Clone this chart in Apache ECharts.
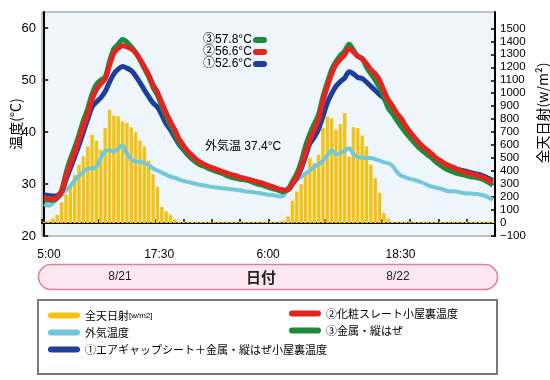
<!DOCTYPE html>
<html><head><meta charset="utf-8">
<script src="https://cdn.jsdelivr.net/npm/echarts@6/dist/echarts.min.js"></script>
<style>html,body{margin:0;padding:0;background:#fff}#c{width:550px;height:380px}</style>
</head><body><div id="c"></div><script>
// ---- data (30-min samples, index 0 = 5:00 8/21) ----
const solar = [10,18,35,64,160,218,282,372,449,513,590,680,634,564,731,872,828,822,782,770,738,700,635,590,480,378,280,125,90,64,30,
10,10,10,10,10,10,10,10,10,10,10,10,10,10,10,10,10,10,10,10,10,10,10,
12,18,51,172,243,300,397,500,462,526,731,821,808,718,762,847,513,739,731,674,590,449,347,231,77,33,
10,10,10,10,10,10,10,10,10,10,10,10,10,10,10,10,10,10,10,10,10,10,10,10];
const outdoor = [26.2,25.8,26.3,27.2,27.9,28.8,29.6,30.7,31.6,32.3,33.0,33.0,33.3,35.0,36.3,36.5,36.2,36.8,37.4,35.8,34.8,34.3,34.3,34.0,33.6,33.0,32.6,32.2,31.8,31.4,31.2,30.9,30.6,30.4,30.2,30.0,29.8,29.7,29.5,29.4,29.3,29.2,29.1,29.0,28.9,28.8,28.6,28.5,28.4,28.3,28.2,28.0,27.9,27.8,27.6,27.8,29.2,30.0,30.8,31.4,32.0,32.6,33.3,33.8,34.5,35.5,36.5,35.7,36.0,36.4,36.9,35.8,35.2,35.1,35.0,35.0,34.8,34.5,34.2,34.0,33.5,32.3,31.6,31.3,31.0,30.8,30.5,30.2,29.8,29.5,29.3,29.1,28.8,28.6,28.6,28.5,28.3,28.2,28.2,28.1,28.0,27.8,27.4,27.0];
const airGap1 = [27.9,27.8,27.7,27.8,28.5,30.8,33.0,35.2,37.5,40.0,42.5,44.8,45.8,46.6,47.8,49.6,51.2,52.1,52.6,52.3,51.8,50.8,49.5,48.1,46.8,45.6,44.8,43.3,41.6,40.4,39.0,37.6,36.6,35.6,34.8,34.2,33.9,33.5,33.1,32.8,32.5,32.2,31.9,31.6,31.4,31.2,31.0,30.8,30.6,30.3,30.1,29.8,29.5,29.2,28.9,28.8,28.9,30.0,31.2,33.0,35.3,37.8,39.0,40.6,43.0,45.6,47.4,48.8,49.7,50.4,51.6,51.2,50.5,50.3,49.6,48.8,48.0,47.2,46.5,45.0,44.0,42.5,41.5,40.3,39.2,38.2,37.4,36.6,35.9,35.2,34.7,34.2,33.7,33.4,33.1,32.8,32.6,32.4,32.2,32.0,31.8,31.5,31.1,30.7];
const slate2 = [27.4,27.2,27.1,27.4,28.5,31.4,33.8,36.0,38.5,41.1,43.4,46.3,48.2,49.3,50.2,52.8,55.2,56.1,56.6,56.4,56.0,55.3,54.0,52.6,51.0,49.1,47.7,45.7,43.7,42.0,40.4,38.6,37.4,36.3,35.5,34.7,34.1,33.7,33.3,33.0,32.7,32.4,32.1,31.8,31.6,31.3,31.1,30.9,30.6,30.4,30.2,29.9,29.6,29.3,29.0,28.8,28.9,30.0,31.3,33.2,35.9,38.4,40.4,42.3,45.9,48.7,51.2,53.0,54.0,54.9,56.1,55.4,54.6,54.1,53.2,52.0,51.2,50.0,48.0,46.2,45.0,43.6,42.6,41.2,40.0,39.0,38.0,37.2,36.5,35.8,35.0,34.5,33.9,33.5,33.2,32.8,32.5,32.2,32.0,31.8,31.5,31.2,30.8,30.3];
const metal3 = [27.0,26.9,26.9,27.3,28.8,32.1,34.8,37.0,39.5,42.2,44.5,47.3,49.2,50.0,50.6,53.6,56.0,56.9,57.8,57.3,56.4,55.3,53.9,52.2,50.6,48.6,47.1,45.0,43.0,41.3,39.7,37.9,36.8,35.7,34.9,34.1,33.6,33.3,32.9,32.6,32.3,32.0,31.6,31.3,31.1,30.9,30.8,30.6,30.3,30.0,29.8,29.5,29.2,29.0,28.7,28.5,29.0,30.5,32.0,34.3,37.3,39.7,41.6,43.4,46.8,49.5,52.0,53.6,54.7,55.6,56.9,55.8,54.6,54.2,52.5,51.2,50.0,48.5,46.8,44.6,43.5,42.2,41.0,39.9,38.9,37.9,37.0,36.3,35.6,35.0,34.2,33.6,33.0,32.6,32.3,32.0,31.8,31.6,31.4,31.3,31.1,30.8,30.3,29.8];
const timeLabels = ['5:00','17:30','6:00','18:30'];
const dateLabels = ['8/21','8/22'];
const tempTicks = [20,30,40,50,60];
const solarTicks = [-100,0,100,200,300,400,500,600,700,800,900,1000,1100,1200,1300,1400,1500];
const seriesNames = ['全天日射[w/m2]','外気温度','①エアギャップシート＋金属・縦はぜ小屋裏温度','②化粧スレート小屋裏温度','③金属・縦はぜ'];

// ---- chart ----
const N = solar.length;
const LAT = "'Liberation Sans', Arial, 'Noto Sans CJK JP', sans-serif";
const CJK = "'Noto Sans CJK JP', 'Liberation Sans', sans-serif";
const pair = a => a.map((v, i) => [i, v]);
const labelPos = [1.1, 26.4, 51.4, 81.8];
const xTicks = []; for (let k = 0; k <= 16; k++) xTicks.push(-0.5 + k * N / 16);
const C = {sun:'#f3c214', out:'#72c8d8', blue:'#1d3f9b', red:'#e6231f', green:'#1f8a3c'};
const capsule = 'path://M3,0 L29,0 A3,3 0 0 1 29,6 L3,6 A3,3 0 0 1 3,0 Z';
const mx = a => Math.max(...a).toFixed(1);

const chart = echarts.init(document.getElementById('c'), null, {renderer:'canvas'});
chart.setOption({
  animation:false,
  textStyle:{fontFamily:LAT},
  grid:{left:42, right:55, top:12, bottom:144, containLabel:false, outerBoundsMode:'none',
    show:true, backgroundColor:'#eef5fb', borderColor:'#8c8c8c', borderWidth:1},
  xAxis:{type:'value', min:-0.5, max:N-0.5,
    axisLine:{lineStyle:{color:'#000', width:2}},
    axisTick:{inside:true, length:4, customValues:xTicks, lineStyle:{color:'#000', width:1.5}},
    axisLabel:{customValues:labelPos, color:'#000', fontSize:12, margin:13,
      formatter:v => { let b=0; labelPos.forEach((p,k)=>{ if (Math.abs(p-v) < Math.abs(labelPos[b]-v)) b=k; }); return timeLabels[b]; }},
    splitLine:{show:false}},
  yAxis:[
    {type:'value', min:20, max:63.1, position:'left',
      axisLine:{show:true, lineStyle:{color:'#000', width:2}},
      axisTick:{show:true, inside:true, length:4, customValues:tempTicks, lineStyle:{color:'#000', width:1.5}},
      axisLabel:{customValues:tempTicks, color:'#000', fontSize:13, margin:6},
      splitLine:{show:false},
      name:'温度(°C)', nameLocation:'middle', nameRotate:90, nameGap:19, nameMoveOverlap:false,
      nameTextStyle:{fontSize:14, color:'#000', fontFamily:CJK}},
    {type:'value', min:-100, max:1626, position:'right',
      axisLine:{show:true, lineStyle:{color:'#000', width:2}},
      axisTick:{show:true, inside:true, length:4, customValues:solarTicks, lineStyle:{color:'#000', width:1.5}},
      axisLabel:{customValues:solarTicks, color:'#000', fontSize:11.5, margin:5,
        formatter:v => String(v).replace('-', '\u2212')},
      splitLine:{show:false},
      name:'全天日射(w/m²)', nameLocation:'middle', nameRotate:90, nameGap:41, nameMoveOverlap:false,
      nameTextStyle:{fontSize:14, color:'#000', fontFamily:CJK, padding:[0,0,0,22]}}
  ],
  legend:[
    {left:48, top:310, orient:'vertical', itemGap:6, itemWidth:32, itemHeight:7, icon:capsule, padding:0,
      data:[seriesNames[0], seriesNames[1], seriesNames[2]],
      formatter:n => n === seriesNames[0] ? '全天日射{s|[w/m2]}' : n,
      textStyle:{fontSize:11, color:'#000', fontFamily:CJK, rich:{s:{fontSize:8, color:'#000', fontFamily:LAT}}}},
    {left:289, top:308, orient:'vertical', itemGap:6, itemWidth:32, itemHeight:7, icon:capsule, padding:0,
      data:[seriesNames[3], seriesNames[4]],
      textStyle:{fontSize:11, color:'#000', fontFamily:CJK}}
  ],
  graphic:[
    {type:'rect', z:0, shape:{x:38.5, y:264.5, width:459, height:25, r:12.5}, style:{fill:'#fce6f0', stroke:'#e27ca3', lineWidth:1.5}},
    {type:'text', z:1, style:{x:120, y:277, text:dateLabels[0], fontSize:12, fontFamily:LAT, fill:'#222', align:'center', verticalAlign:'middle'}},
    {type:'text', z:1, style:{x:261, y:277, text:'日付', fontSize:15, fontWeight:'bold', fontFamily:CJK, fill:'#222', align:'center', verticalAlign:'middle'}},
    {type:'text', z:1, style:{x:398, y:277, text:dateLabels[1], fontSize:12, fontFamily:LAT, fill:'#222', align:'center', verticalAlign:'middle'}},
    {type:'rect', z:0, shape:{x:38, y:300, width:459, height:74}, style:{fill:'#fff', stroke:'#7a7a7a', lineWidth:2}},
    {type:'text', z:100, style:{x:203, y:40, text:'③'+mx(metal3)+'°C', fontSize:12, fontFamily:LAT, fill:'#000', verticalAlign:'middle'}},
    {type:'text', z:100, style:{x:203, y:52, text:'②'+mx(slate2)+'°C', fontSize:12, fontFamily:LAT, fill:'#000', verticalAlign:'middle'}},
    {type:'text', z:100, style:{x:203, y:64, text:'①'+mx(airGap1)+'°C', fontSize:12, fontFamily:LAT, fill:'#000', verticalAlign:'middle'}},
    {type:'rect', z:100, shape:{x:253, y:37, width:14, height:6, r:3}, style:{fill:C.green}},
    {type:'rect', z:100, shape:{x:253, y:49, width:14, height:6, r:3}, style:{fill:C.red}},
    {type:'rect', z:100, shape:{x:253, y:61, width:14, height:6, r:3}, style:{fill:C.blue}},
    {type:'text', z:100, style:{x:205, y:147, text:'外気温 '+mx(outdoor)+'°C', fontSize:12, fontFamily:LAT, fill:'#000', verticalAlign:'middle'}}
  ],
  series:[
    {name:seriesNames[0], type:'bar', yAxisIndex:1, data:pair(solar), barWidth:3.4, itemStyle:{color:C.sun}},
    {name:seriesNames[1], type:'line', data:pair(outdoor), showSymbol:false, smooth:0.3, lineStyle:{color:C.out, width:4}, itemStyle:{color:C.out}},
    {name:seriesNames[2], type:'line', data:pair(airGap1), showSymbol:false, smooth:0.3, lineStyle:{color:C.blue, width:5}, itemStyle:{color:C.blue}},
    {name:seriesNames[4], type:'line', data:pair(metal3), showSymbol:false, smooth:0.3, lineStyle:{color:C.green, width:5}, itemStyle:{color:C.green}},
    {name:seriesNames[3], type:'line', data:pair(slate2), showSymbol:false, smooth:0.3, lineStyle:{color:C.red, width:5}, itemStyle:{color:C.red}}
  ]
});
</script></body></html>
